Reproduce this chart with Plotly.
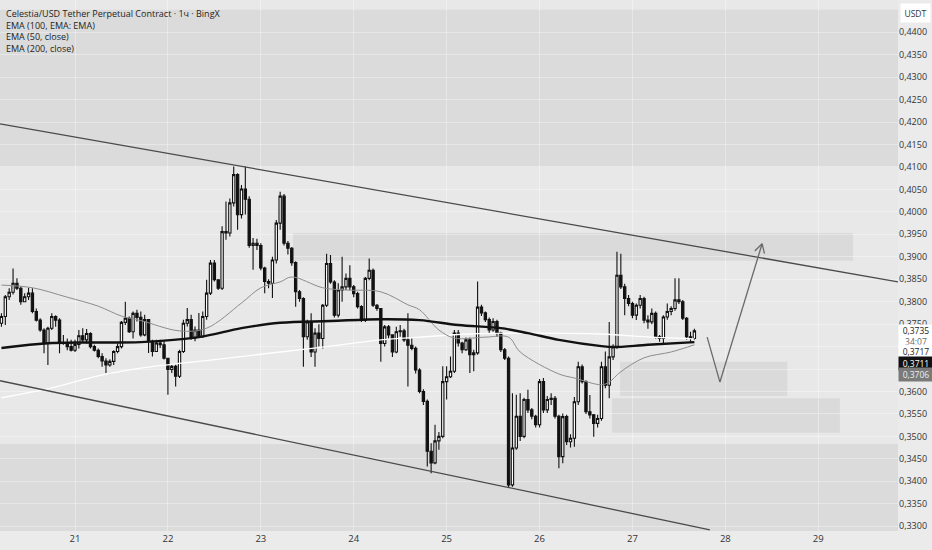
import pandas as pd
import plotly.graph_objects as go

# ---------------- data ----------------
BASE = pd.Timestamp("2025-12-21 00:00")
first_hour = -19          # first candle: 19 h before day "21"
first_open = 0.3752

closes = [
    0.3767, 0.3811, 0.3821, 0.3841, 0.3830, 0.3800, 0.3811, 0.3819, 0.3778, 0.3759,
    0.3737, 0.3707, 0.3741, 0.3767, 0.3759, 0.3707, 0.3709, 0.3700, 0.3692, 0.3705,
    0.3724, 0.3715, 0.3729, 0.3700, 0.3692, 0.3678, 0.3668, 0.3659, 0.3667, 0.3689,
    0.3700, 0.3754, 0.3763, 0.3733, 0.3774, 0.3765,
    0.3726, 0.3760, 0.3712, 0.3689, 0.3708, 0.3704, 0.3674, 0.3649, 0.3656, 0.3634,
    0.3689, 0.3752, 0.3760, 0.3719, 0.3737, 0.3723, 0.3767, 0.3819, 0.3886, 0.3849,
    0.3830, 0.3956, 0.3953, 0.4020, 0.4083, 0.3994, 0.4051, 0.4028, 0.3925, 0.3930,
    0.3925, 0.3875, 0.3845, 0.3841, 0.3893, 0.3975,
    0.4035, 0.3930, 0.3919, 0.3887, 0.3822, 0.3807, 0.3722, 0.3755, 0.3688, 0.3730,
    0.3718, 0.3792, 0.3885, 0.3844, 0.3770, 0.3826, 0.3833, 0.3852, 0.3833, 0.3818,
    0.3789, 0.3759, 0.3852, 0.3870, 0.3792, 0.3785, 0.3707, 0.3744, 0.3726, 0.3688,
    0.3733, 0.3735, 0.3715, 0.3703, 0.3696, 0.3648,
    0.3600, 0.3578, 0.3467, 0.3441, 0.3490, 0.3500, 0.3622, 0.3633, 0.3645, 0.3730,
    0.3708, 0.3693, 0.3715, 0.3682, 0.3686, 0.3788, 0.3775, 0.3760, 0.3737, 0.3756,
    0.3730, 0.3693, 0.3674, 0.3392, 0.3474, 0.3545, 0.3500, 0.3582, 0.3559, 0.3545,
    0.3526, 0.3622, 0.3559, 0.3582, 0.3585, 0.3545, 0.3455,
    0.3544, 0.3488, 0.3496, 0.3577, 0.3655, 0.3622, 0.3555, 0.3548, 0.3529, 0.3540,
    0.3655, 0.3614, 0.3677, 0.3700, 0.3859, 0.3833, 0.3807, 0.3796, 0.3770, 0.3792,
    0.3807, 0.3759, 0.3755, 0.3774, 0.3722, 0.3718, 0.3766, 0.3778, 0.3785, 0.3804,
    0.3800, 0.3763, 0.3722, 0.3718, 0.3735,
]
highs = [
    0.3774, 0.3815, 0.3830, 0.3874, 0.3852, 0.3834, 0.3819, 0.3831, 0.3830, 0.3785,
    0.3763, 0.3741, 0.3744, 0.3774, 0.3770, 0.3763, 0.3726, 0.3718, 0.3715, 0.3715,
    0.3737, 0.3741, 0.3739, 0.3732, 0.3704, 0.3696, 0.3685, 0.3674, 0.3672, 0.3692,
    0.3707, 0.3757, 0.3800, 0.3767, 0.3778, 0.3782,
    0.3778, 0.3771, 0.3760, 0.3715, 0.3715, 0.3715, 0.3712, 0.3674, 0.3660, 0.3660,
    0.3693, 0.3760, 0.3786, 0.3771, 0.3745, 0.3775, 0.3778, 0.3849, 0.3893, 0.3893,
    0.3849, 0.3968, 0.4023, 0.4030, 0.4101, 0.4086, 0.4060, 0.4101, 0.4035, 0.3942,
    0.3940, 0.3930, 0.3878, 0.3850, 0.3900, 0.3982,
    0.4045, 0.4040, 0.3935, 0.3922, 0.3890, 0.3826, 0.3810, 0.3760, 0.3774, 0.3741,
    0.3750, 0.3795, 0.3907, 0.3904, 0.3848, 0.3841, 0.3900, 0.3863, 0.3881, 0.3837,
    0.3822, 0.3792, 0.3855, 0.3896, 0.3874, 0.3795, 0.3785, 0.3748, 0.3748, 0.3726,
    0.3744, 0.3748, 0.3740, 0.3774, 0.3718, 0.3700,
    0.3652, 0.3605, 0.3582, 0.3485, 0.3526, 0.3510, 0.3656, 0.3656, 0.3678, 0.3737,
    0.3737, 0.3711, 0.3720, 0.3720, 0.3693, 0.3845, 0.3793, 0.3778, 0.3765, 0.3763,
    0.3760, 0.3733, 0.3697, 0.3678, 0.3596, 0.3593, 0.3596, 0.3586, 0.3604, 0.3563,
    0.3548, 0.3628, 0.3630, 0.3590, 0.3596, 0.3590, 0.3548,
    0.3551, 0.3548, 0.3505, 0.3588, 0.3666, 0.3660, 0.3625, 0.3592, 0.3550, 0.3548,
    0.3666, 0.3689, 0.3755, 0.3705, 0.3911, 0.3907, 0.3840, 0.3815, 0.3800, 0.3796,
    0.3815, 0.3811, 0.3770, 0.3785, 0.3778, 0.3726, 0.3770, 0.3796, 0.3790, 0.3852,
    0.3852, 0.3804, 0.3766, 0.3733, 0.3740,
]
lows = [
    0.3744, 0.3748, 0.3804, 0.3816, 0.3826, 0.3793, 0.3800, 0.3804, 0.3774, 0.3756,
    0.3733, 0.3685, 0.3659, 0.3737, 0.3744, 0.3685, 0.3704, 0.3692, 0.3689, 0.3688,
    0.3696, 0.3709, 0.3707, 0.3696, 0.3689, 0.3674, 0.3655, 0.3641, 0.3655, 0.3659,
    0.3685, 0.3696, 0.3748, 0.3730, 0.3718, 0.3756,
    0.3722, 0.3723, 0.3686, 0.3678, 0.3689, 0.3697, 0.3671, 0.3593, 0.3641, 0.3611,
    0.3630, 0.3686, 0.3745, 0.3715, 0.3712, 0.3719, 0.3719, 0.3760, 0.3815, 0.3845,
    0.3826, 0.3826, 0.3938, 0.3945, 0.4012, 0.3960, 0.3985, 0.3994, 0.3920, 0.3871,
    0.3915, 0.3870, 0.3819, 0.3830, 0.3808, 0.3885,
    0.3960, 0.3925, 0.3905, 0.3880, 0.3789, 0.3800, 0.3655, 0.3715, 0.3677, 0.3655,
    0.3700, 0.3696, 0.3788, 0.3840, 0.3765, 0.3765, 0.3800, 0.3826, 0.3826, 0.3810,
    0.3785, 0.3755, 0.3755, 0.3848, 0.3788, 0.3780, 0.3666, 0.3700, 0.3718, 0.3677,
    0.3685, 0.3722, 0.3710, 0.3611, 0.3692, 0.3640,
    0.3596, 0.3570, 0.3433, 0.3418, 0.3438, 0.3470, 0.3496, 0.3582, 0.3630, 0.3641,
    0.3700, 0.3685, 0.3690, 0.3641, 0.3645, 0.3682, 0.3768, 0.3755, 0.3730, 0.3733,
    0.3722, 0.3688, 0.3670, 0.3385, 0.3388, 0.3470, 0.3490, 0.3496, 0.3552, 0.3538,
    0.3520, 0.3520, 0.3552, 0.3552, 0.3570, 0.3540, 0.3429,
    0.3440, 0.3481, 0.3475, 0.3477, 0.3570, 0.3618, 0.3550, 0.3540, 0.3499, 0.3520,
    0.3535, 0.3607, 0.3585, 0.3670, 0.3695, 0.3828, 0.3770, 0.3790, 0.3763, 0.3759,
    0.3785, 0.3752, 0.3740, 0.3750, 0.3718, 0.3711, 0.3707, 0.3760, 0.3770, 0.3780,
    0.3795, 0.3759, 0.3715, 0.3711, 0.3715,
]

# indicator lines, read at a few points (hours from day 21 00:00)
ema200_hours = [-19, -6, 17, 32, 43, 53, 66, 79, 89, 99, 110, 117, 125, 136, 139, 148, 160]
ema200_vals = [0.3697, 0.3708, 0.3710, 0.3721, 0.3741, 0.3753, 0.3757, 0.3761, 0.3759,
               0.3748, 0.3741, 0.3730, 0.3715, 0.3701, 0.3699, 0.3704, 0.3710]
ema50_hours = [-19, -11, -2, 6, 12, 17, 27, 34, 43, 48, 53, 56, 64, 70, 79, 86, 89, 94,
               98, 106, 112, 115, 125, 129, 136, 138, 141, 147, 154, 160]
ema50_vals = [0.3837, 0.3831, 0.3810, 0.3790, 0.3768, 0.3758, 0.3735, 0.3741, 0.3797,
              0.3831, 0.3844, 0.3855, 0.3831, 0.3826, 0.3822, 0.3793, 0.3782, 0.3737,
              0.3719, 0.3721, 0.3721, 0.3688, 0.3639, 0.3630, 0.3615, 0.3621, 0.3644,
              0.3675, 0.3688, 0.3704]
ema100_hours = [-19, -6, 6, 17, 35, 53, 66, 79, 89, 102, 118, 136, 149, 160]
ema100_vals = [0.3586, 0.3608, 0.3635, 0.3652, 0.3670, 0.3688, 0.3701, 0.3715, 0.3721,
               0.3728, 0.3730, 0.3728, 0.3721, 0.3717]

day_ticks = [21, 22, 23, 24, 25, 26, 27, 28, 29]
price_ticks = [0.3300 + 0.005 * i for i in range(23)]
hidden_ticks = [0.3650, 0.3700]   # covered by the price tags in the reference
price_tag_texts = ["0,3735", "34:07", "0,3717", "0,3711", "0,3706"]
legend_lines = ["Celestia/USD Tether Perpetual Contract · 1ч · BingX",
                "EMA (100, EMA: EMA)", "EMA (50, close)", "EMA (200, close)"]

# ---------------- figure ----------------
def t(h):
    return BASE + pd.Timedelta(hours=h)

times = [t(first_hour + i) for i in range(len(closes))]
opens = [first_open] + closes[:-1]

fig = go.Figure()

fig.add_trace(go.Candlestick(
    x=times, open=opens, high=highs, low=lows, close=closes,
    increasing=dict(line=dict(color="#111111", width=1.1), fillcolor="#ffffff"),
    decreasing=dict(line=dict(color="#111111", width=1.1), fillcolor="#111111"),
    whiskerwidth=0, showlegend=False, hoverinfo="skip",
))
fig.add_trace(go.Scatter(x=[t(h) for h in ema100_hours], y=ema100_vals, mode="lines",
                         line=dict(color="#ffffff", width=1.3, shape="spline"),
                         showlegend=False, hoverinfo="skip"))
fig.add_trace(go.Scatter(x=[t(h) for h in ema50_hours], y=ema50_vals, mode="lines",
                         line=dict(color="#8c8c8c", width=1, shape="spline"),
                         showlegend=False, hoverinfo="skip"))
fig.add_trace(go.Scatter(x=[t(h) for h in ema200_hours], y=ema200_vals, mode="lines",
                         line=dict(color="#111111", width=2.4, shape="spline"),
                         showlegend=False, hoverinfo="skip"))

shapes = []
zone = "rgba(0,0,0,0.055)"
# zones
shapes.append(dict(type="rect", xref="paper", x0=0, x1=1, yref="y", y0=0.4100, y1=0.4450,
                   fillcolor=zone, line_width=0, layer="below"))
shapes.append(dict(type="rect", xref="paper", x0=0, x1=1, yref="y", y0=0.3200, y1=0.3483,
                   fillcolor=zone, line_width=0, layer="below"))
for h0, h1, p0, p1 in [(56.3, 201, 0.3891, 0.3953), (140.8, 184, 0.3590, 0.3666),
                       (138.7, 197.6, 0.3508, 0.3585)]:
    shapes.append(dict(type="rect", xref="x", x0=t(h0), x1=t(h1), yref="y", y0=p0, y1=p1,
                       fillcolor="rgba(0,0,0,0.06)", line_width=0, layer="below"))
# channel lines
shapes.append(dict(type="line", xref="x", yref="y", x0=t(-19.375), y0=0.4196,
                   x1=t(212.6), y1=0.3844, line=dict(color="#4a4a4a", width=1.3)))
shapes.append(dict(type="line", xref="x", yref="y", x0=t(-19.375), y0=0.3624,
                   x1=t(164.0), y1=0.3292, line=dict(color="#4a4a4a", width=1.3)))
# arrow path
arrow = dict(color="#6a6a6a", width=1.3)
shapes.append(dict(type="line", xref="x", yref="y", x0=t(163.3), y0=0.3721,
                   x1=t(166.6), y1=0.3621, line=arrow))
shapes.append(dict(type="line", xref="x", yref="y", x0=t(166.6), y0=0.3621,
                   x1=t(177.5), y1=0.3929, line=arrow))
shapes.append(dict(type="line", xref="x", yref="y", x0=t(177.5), y0=0.3929,
                   x1=t(175.6), y1=0.3913, line=arrow))
shapes.append(dict(type="line", xref="x", yref="y", x0=t(177.5), y0=0.3929,
                   x1=t(178.1), y1=0.3907, line=arrow))

PH = 531.0
def py(px):
    return 1 - px / PH

ann = []
ann.append(dict(xref="paper", yref="paper", x=0, y=py(5), xanchor="left",
                yanchor="top", xshift=4, showarrow=False, align="left",
                text="<br>".join(legend_lines),
                font=dict(size=9, color="#1e1e1e", family="Open Sans")))
ann.append(dict(xref="paper", yref="paper", x=1, y=py(13), xanchor="left", yanchor="middle",
                xshift=2, showarrow=False, text="USDT", bgcolor="#ffffff", width=27,
                height=16, font=dict(size=8.5, color="#333333", family="Open Sans")))
ann.append(dict(xref="paper", yref="paper", x=1, y=py(336), xanchor="left",
                yanchor="middle", showarrow=False, width=32, height=20, bgcolor="#ffffff",
                text=price_tag_texts[0] + "<br><span style='color:#666'>" +
                price_tag_texts[1] + "</span>",
                font=dict(size=8.5, color="#222222", family="Open Sans")))
ann.append(dict(xref="paper", yref="paper", x=1, y=py(351.5), xanchor="left",
                yanchor="middle", showarrow=False, width=32, height=11, bgcolor="#ffffff",
                text=price_tag_texts[2], font=dict(size=8.5, color="#222222", family="Open Sans")))
ann.append(dict(xref="paper", yref="paper", x=1, y=py(363.5), xanchor="left",
                yanchor="middle", showarrow=False, width=32, height=11, bgcolor="#111111",
                text=price_tag_texts[3], font=dict(size=8.5, color="#ffffff", family="Open Sans")))
ann.append(dict(xref="paper", yref="paper", x=1, y=py(374.5), xanchor="left",
                yanchor="middle", showarrow=False, width=32, height=11, bgcolor="#7a7a7a",
                text=price_tag_texts[4], font=dict(size=8.5, color="#eeeeee", family="Open Sans")))

fig.update_layout(
    width=932, height=550,
    margin=dict(l=0, r=34, t=0, b=19, autoexpand=False),
    paper_bgcolor="#ebebeb", plot_bgcolor="#e8e8e8",
    shapes=shapes, annotations=ann, boxgap=0.15,
    xaxis=dict(range=[t(-19.375), t(212.6)], rangeslider=dict(visible=False),
               tickvals=[t((d - 21) * 24) for d in day_ticks],
               ticktext=[str(d) for d in day_ticks],
               showgrid=True, gridcolor="rgba(255,255,255,0.35)", gridwidth=1,
               zeroline=False, showline=False, ticks="",
               tickfont=dict(size=9.5, color="#333333", family="Open Sans")),
    yaxis=dict(range=[0.32893, 0.44719], side="right",
               tickvals=price_ticks,
               ticktext=["" if any(abs(v - hv) < 1e-6 for hv in hidden_ticks)
                         else ("%.4f" % v).replace(".", ",") for v in price_ticks],
               showgrid=True, gridcolor="rgba(255,255,255,0.35)", gridwidth=1,
               zeroline=False, showline=False, ticks="",
               tickfont=dict(size=9, color="#333333", family="Open Sans")),
    font=dict(family="Open Sans"),
)

fig.write_html("out.html", config={"displayModeBar": False},
               post_script="document.body.style.margin='0';document.body.style.background='#ebebeb';")
